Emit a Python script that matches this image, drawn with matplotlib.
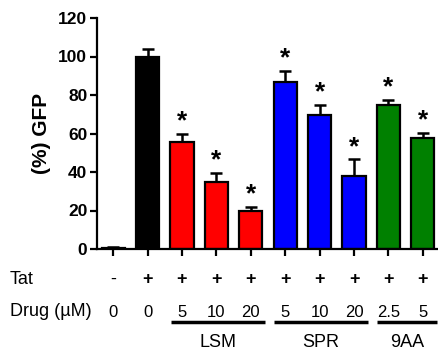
import matplotlib.pyplot as plt
from matplotlib.transforms import blended_transform_factory

plt.rcParams['font.family'] = ['Liberation Sans', 'DejaVu Sans']

# values
gfp = [0.5, 100, 55.5, 35, 20, 86.5, 69.5, 38, 75, 57.5]
err = [0.3, 4, 4.5, 4.5, 2, 6, 5.5, 8.5, 2.5, 2.8]
colors = ['black', 'black', 'red', 'red', 'red', 'blue', 'blue', 'blue', 'green', 'green']
stars = [False, False, True, True, True, True, True, True, True, True]
tat = ['-', '+', '+', '+', '+', '+', '+', '+', '+', '+']
drug = ['0', '0', '5', '10', '20', '5', '10', '20', '2.5', '5']
groups = ['LSM', 'SPR', '9AA']
group_span = [(2, 4), (5, 7), (8, 9)]

fig = plt.figure(figsize=(4.39, 3.53), dpi=100)
ax = fig.add_axes([97 / 439, 104 / 353, 342 / 439, 231 / 353])

x = list(range(len(gfp)))
ax.bar(x, gfp, width=0.67, color=colors, edgecolor='black', linewidth=1.6, zorder=2)
ax.errorbar(x, gfp, yerr=[[0] * len(err), err], fmt='none', ecolor='black',
            elinewidth=1.8, capsize=4.5, capthick=1.8, zorder=1)

for xi, v, e, s in zip(x, gfp, err, stars):
    if s:
        ax.text(xi, v + e + 0.3, '*', ha='center', va='bottom', fontsize=19,
                fontweight='bold')

ax.set_xlim(-0.47, 9.47)
ax.set_ylim(0, 120)
ax.set_yticks(range(0, 121, 20))
ax.set_xticks(x)
ax.set_xticklabels([])
ax.tick_params(axis='both', direction='out', length=5, width=1.6, labelsize=12.5,
               pad=2)
for lab in ax.get_yticklabels():
    lab.set_fontweight('bold')
for side in ['top', 'right']:
    ax.spines[side].set_visible(False)
for side in ['left', 'bottom']:
    ax.spines[side].set_linewidth(1.6)

ax.set_ylabel('(%) GFP', fontsize=15, fontweight='bold', labelpad=5)

tr = blended_transform_factory(ax.transData, ax.transAxes)
for xi, t, d in zip(x, tat, drug):
    ax.text(xi, -0.13, t, transform=tr, ha='center', va='center', fontsize=13,
            fontweight='bold' if t == '+' else 'normal')
    ax.text(xi, -0.273, d, transform=tr, ha='center', va='center', fontsize=12)

for g, (a, b) in zip(groups, group_span):
    ax.plot([a - 0.32, b + 0.4], [-0.316, -0.316], transform=tr, color='black',
            linewidth=2.5, clip_on=False, solid_capstyle='butt')
    ax.text((a + b) / 2 + 0.04, -0.405, g, transform=tr, ha='center', va='center',
            fontsize=13)

fig.text(10 / 439, 1 - 279 / 353, 'Tat', ha='left', va='center', fontsize=13)
fig.text(10 / 439, 1 - 312 / 353, 'Drug (µM)', ha='left', va='center', fontsize=13)

fig.savefig('out.png', dpi=100)
